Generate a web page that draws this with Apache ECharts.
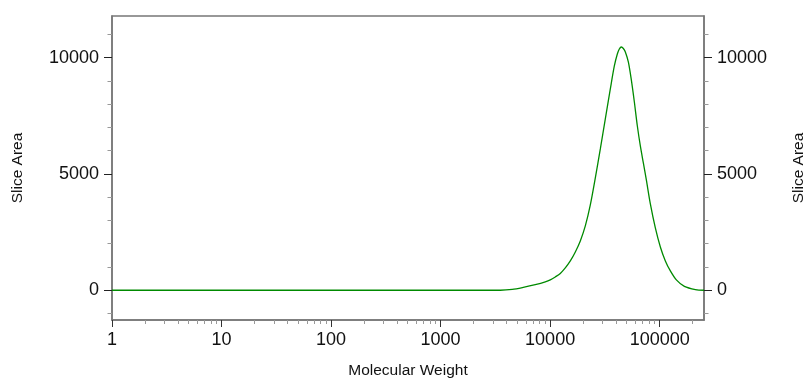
<!DOCTYPE html>
<html>
<head>
<meta charset="utf-8">
<script src="https://cdn.jsdelivr.net/npm/echarts@6/dist/echarts.min.js"></script>
<style>
  html, body { margin: 0; padding: 0; background: #ffffff; }
  #chart { width: 808px; height: 378px; }
</style>
</head>
<body>
<div id="chart"></div>
<script>
// Molecular weight distribution: slice area against molecular weight (log scale)
const molecularWeight = [1, 1000, 3505, 4511, 5685, 7317, 9033, 10035, 11146, 12381, 13756,
  15287, 16982, 18862, 20955, 23280, 25860, 28730, 31910, 35450, 38570, 41070, 42830,
  44680, 46600, 48610, 51760, 55130, 58740, 62560, 66630, 70970, 75580, 82240, 91330,
  101480, 112730, 125230, 142090, 168170, 211960, 254000];
const sliceArea = [0, 0, 0, 34, 120, 236, 357, 443, 572, 722, 959,
  1259, 1646, 2119, 2764, 3667, 4827, 6074, 7363, 8653, 9642, 10157, 10372,
  10458, 10394, 10243, 9814, 9040, 8094, 7062, 6203, 5472, 4741, 3710, 2678,
  1861, 1259, 830, 443, 163, 26, 0];

// Axis ranges and tick labels
const mwMin = 1, mwMax = 254000;
const areaMin = -1280, areaMax = 11790;
const mwMajorTicks = [1, 10, 100, 1000, 10000, 100000];
const mwMinorMultipliers = [2, 3, 4, 5, 6, 7, 8, 9];
const areaMajorTicks = [0, 5000, 10000];
const areaMinorTicks = [-1000, 1000, 2000, 3000, 4000, 6000, 7000, 8000, 9000, 11000];

// The x axis is a value axis over log10(MW)
const lg = v => Math.log10(v);
const xMajor = mwMajorTicks.map(lg);
const xMinor = [];
mwMajorTicks.forEach(d => mwMinorMultipliers.forEach(m => {
  const v = d * m;
  if (v <= mwMax) xMinor.push(lg(v));
}));
const seriesData = molecularWeight.map((mw, i) => [lg(mw), sliceArea[i]]);

const font = '"Liberation Sans", Arial, sans-serif';
const axisGray = '#777777';
const labelStyle = { fontFamily: font, fontSize: 18, color: '#111111' };
const nameStyle = { fontFamily: font, fontSize: 15.5, color: '#111111' };

function xAxisBase(extra) {
  return Object.assign({
    type: 'value', min: lg(mwMin), max: lg(mwMax),
    splitLine: { show: false }, minorTick: { show: false }
  }, extra);
}
function yAxisBase(extra) {
  return Object.assign({
    type: 'value', min: areaMin, max: areaMax,
    splitLine: { show: false }, minorTick: { show: false }
  }, extra);
}

const option = {
  animation: false,
  backgroundColor: '#ffffff',
  grid: { left: 112, right: 104, top: 16, bottom: 58, containLabel: false, outerBoundsMode: 'none',
          show: true, borderColor: axisGray, borderWidth: 1.5, backgroundColor: 'transparent' },
  xAxis: [
    xAxisBase({
      position: 'bottom',
      name: 'Molecular Weight', nameLocation: 'middle', nameGap: 43, nameTextStyle: nameStyle,
      axisLine: { show: true, onZero: false, lineStyle: { color: axisGray, width: 1.5 } },
      axisTick: { show: true, inside: false, length: 7, customValues: xMajor,
                  lineStyle: { color: '#333333', width: 1 } },
      axisLabel: Object.assign({ show: true, margin: 11, customValues: xMajor,
        formatter: v => String(Math.round(Math.pow(10, v))) }, labelStyle)
    }),
    xAxisBase({
      position: 'bottom',
      axisLine: { show: false, onZero: false },
      axisTick: { show: true, inside: false, length: 4, customValues: xMinor,
                  lineStyle: { color: '#999999', width: 1 } },
      axisLabel: { show: false }
    })
  ],
  yAxis: [
    yAxisBase({
      position: 'left',
      name: 'Slice Area', nameLocation: 'middle', nameGap: 86, nameRotate: 90, nameTextStyle: nameStyle,
      axisLine: { show: true, onZero: false, lineStyle: { color: axisGray, width: 1.5 } },
      axisTick: { show: true, inside: false, length: 8, customValues: areaMajorTicks,
                  lineStyle: { color: '#222222', width: 1 } },
      axisLabel: Object.assign({ show: true, margin: 13, customValues: areaMajorTicks,
        formatter: v => String(v) }, labelStyle)
    }),
    yAxisBase({
      position: 'left',
      axisLine: { show: false, onZero: false },
      axisTick: { show: true, inside: false, length: 4.5, customValues: areaMinorTicks,
                  lineStyle: { color: '#999999', width: 1 } },
      axisLabel: { show: false }
    }),
    yAxisBase({
      position: 'right',
      name: 'Slice Area', nameLocation: 'middle', nameGap: 87, nameRotate: 90, nameTextStyle: nameStyle,
      axisLine: { show: true, onZero: false, lineStyle: { color: axisGray, width: 1.5 } },
      axisTick: { show: true, inside: false, length: 8, customValues: areaMajorTicks,
                  lineStyle: { color: '#222222', width: 1 } },
      axisLabel: Object.assign({ show: true, margin: 13, customValues: areaMajorTicks,
        formatter: v => String(v) }, labelStyle)
    }),
    yAxisBase({
      position: 'right',
      axisLine: { show: false, onZero: false },
      axisTick: { show: true, inside: false, length: 4.5, customValues: areaMinorTicks,
                  lineStyle: { color: '#999999', width: 1 } },
      axisLabel: { show: false }
    })
  ],
  series: [{
    type: 'line',
    xAxisIndex: 0,
    yAxisIndex: 0,
    data: seriesData,
    smooth: 0.3,
    showSymbol: false,
    lineStyle: { color: '#008a00', width: 1.3 },
    clip: true
  }]
};

const chart = echarts.init(document.getElementById('chart'), null, { renderer: 'canvas' });
chart.setOption(option);
</script>
</body>
</html>
